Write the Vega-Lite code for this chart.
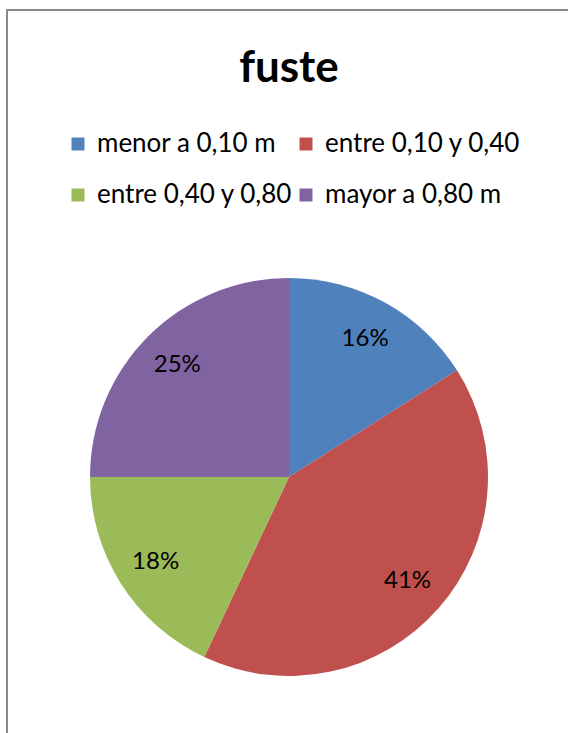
{
  "$schema": "https://vega.github.io/schema/vega-lite/v6.json",
  "width": 564,
  "height": 934,
  "autosize": "none",
  "padding": {"left": 7, "top": 10, "right": -3, "bottom": -211},
  "background": "white",
  "view": {"stroke": "#898989", "strokeWidth": 2, "fill": "white"},
  "config": {
    "font": "Lato"
  },
  "title": {
    "text": "fuste",
    "font": "Lato",
    "fontSize": 44,
    "fontWeight": "bold",
    "color": "#000000",
    "anchor": "middle",
    "frame": "group",
    "baseline": "alphabetic",
    "offset": -116
  },
  "data": {
    "values": [
      {"categoria": "menor a 0,10 m", "valor": 16, "etiqueta": "16%", "orden": 1},
      {"categoria": "entre 0,10 y 0,40", "valor": 41, "etiqueta": "41%", "orden": 2},
      {"categoria": "entre 0,40 y 0,80", "valor": 18, "etiqueta": "18%", "orden": 3},
      {"categoria": "mayor a 0,80 m", "valor": 25, "etiqueta": "25%", "orden": 4}
    ]
  },
  "encoding": {
    "theta": {"field": "valor", "type": "quantitative", "stack": true},
    "order": {"field": "orden", "type": "quantitative"}
  },
  "layer": [
    {
      "mark": {"type": "arc", "outerRadius": 199, "stroke": null},
      "encoding": {
        "color": {
          "field": "categoria",
          "type": "nominal",
          "sort": ["menor a 0,10 m", "entre 0,10 y 0,40", "entre 0,40 y 0,80", "mayor a 0,80 m"],
          "scale": {
            "domain": ["menor a 0,10 m", "entre 0,10 y 0,40", "entre 0,40 y 0,80", "mayor a 0,80 m"],
            "range": ["#4F81BD", "#C0504D", "#9BBB59", "#8064A2"]
          },
          "legend": {
            "title": null,
            "orient": "none",
            "legendX": 58,
            "legendY": 121,
            "direction": "horizontal",
            "columns": 2,
            "symbolType": "square",
            "symbolSize": 169,
            "symbolStrokeWidth": 0,
            "labelFont": "Lato",
            "labelFontSize": 26,
            "labelColor": "#000000",
            "labelOffset": 6,
            "columnPadding": 0,
            "rowPadding": 25,
            "labelLimit": 400
          }
        }
      }
    },
    {
      "mark": {"type": "text", "radius": 158, "font": "Lato", "fontSize": 24, "color": "#000000", "align": "center", "baseline": "middle"},
      "encoding": {
        "text": {"field": "etiqueta", "type": "nominal"}
      }
    }
  ]
}
